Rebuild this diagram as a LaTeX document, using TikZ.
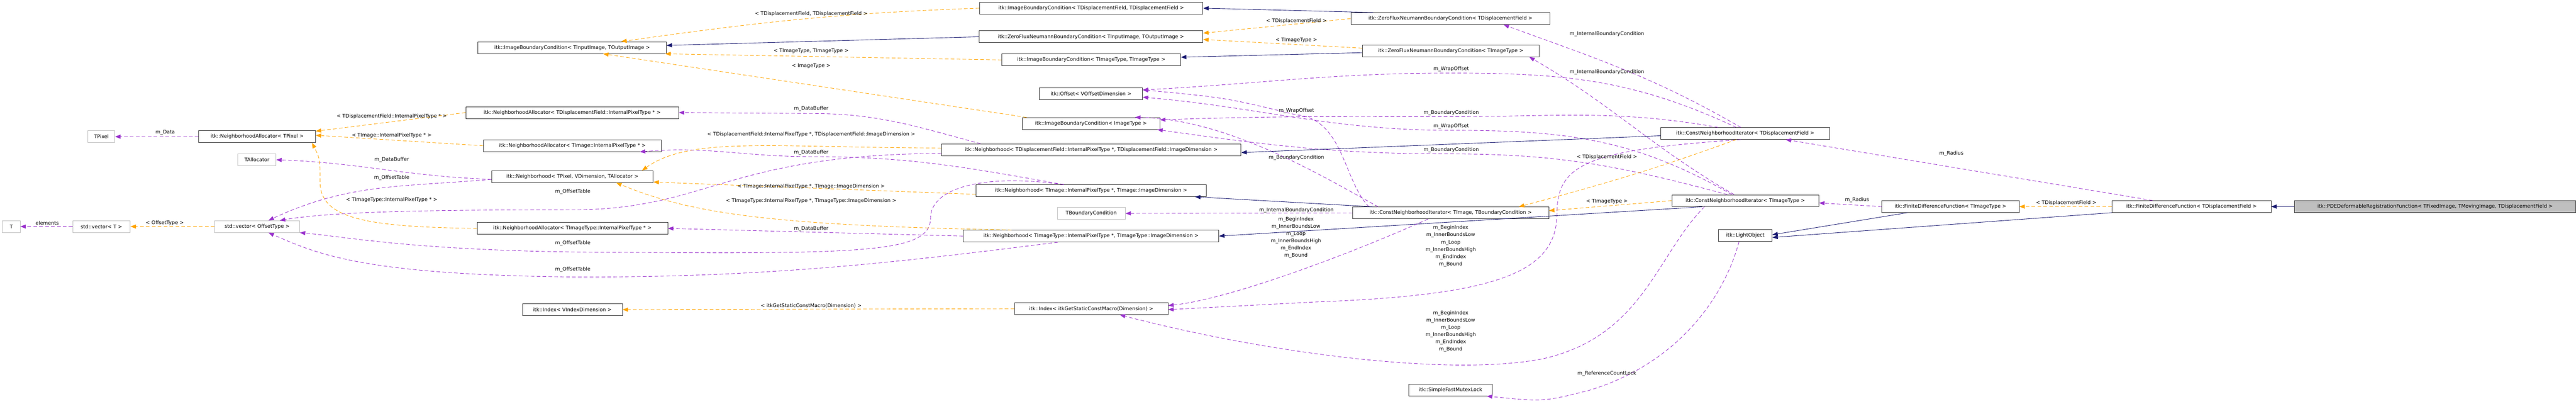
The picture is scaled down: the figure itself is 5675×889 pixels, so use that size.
\documentclass[tikz,border=0pt]{standalone}
\usepackage{fontspec}
\setmainfont{DejaVu Sans}
\usetikzlibrary{arrows.meta}
\begin{document}
\begin{tikzpicture}[x=1pt,y=-1pt,
  every node/.style={font=\fontsize{11}{16}\selectfont},
  box/.style={draw=black!80,line width=1pt,fill=white,minimum height=26pt,inner sep=0pt},
  gbox/.style={box,draw=black!25},
  cur/.style={box,fill=black!25},
  lab/.style={inner sep=1pt,align=center},
  inh/.style={draw={rgb,255:red,25;green,25;blue,112},line width=1pt,-{Triangle[length=12pt,width=9pt]}},
  use/.style={draw={rgb,255:red,154;green,50;blue,205},line width=1pt,dash pattern=on 8pt off 5pt,-{Triangle[length=12pt,width=9pt]}},
  tpl/.style={draw={rgb,255:red,255;green,165;blue,0},line width=1pt,dash pattern=on 8pt off 5pt,-{Triangle[length=12pt,width=9pt]}}]
\useasboundingbox (0,0) rectangle (5675,889);
\newcommand\bx[6]{\node[#1,minimum width={#4-#3}] (#2) at ({(#3+#4)/2},#5) {#6};}
\bx{gbox}{T}{5.5}{44.5}{499}{T}
\bx{gbox}{vecT}{160}{287}{499}{std::vector< T >}
\bx{gbox}{vecO}{473}{660}{499}{std::vector< OffsetType >}
\bx{gbox}{TPixel}{194}{253}{301}{TPixel}
\bx{box}{NAP}{438}{695}{301}{itk::NeighborhoodAllocator< TPixel >}
\bx{gbox}{TAlloc}{524}{608}{352}{TAllocator}
\bx{box}{IBCio}{1053}{1468}{105}{itk::ImageBoundaryCondition< TInputImage, TOutputImage >}
\bx{box}{NAD}{1026}{1495}{248}{itk::NeighborhoodAllocator< TDisplacementField::InternalPixelType * >}
\bx{box}{NAI}{1065}{1457}{321}{itk::NeighborhoodAllocator< TImage::InternalPixelType * >}
\bx{box}{NP}{1083}{1439}{389}{itk::Neighborhood< TPixel, VDimension, TAllocator >}
\bx{box}{NAT}{1051}{1471}{503}{itk::NeighborhoodAllocator< TImageType::InternalPixelType * >}
\bx{box}{IdxV}{1151}{1371}{682}{itk::Index< VIndexDimension >}
\bx{box}{IBCdd}{2158}{2650}{18}{itk::ImageBoundaryCondition< TDisplacementField, TDisplacementField >}
\bx{box}{ZFio}{2157}{2650}{81}{itk::ZeroFluxNeumannBoundaryCondition< TInputImage, TOutputImage >}
\bx{box}{IBCtt}{2207}{2601}{132}{itk::ImageBoundaryCondition< TImageType, TImageType >}
\bx{box}{Off}{2290}{2517}{207}{itk::Offset< VOffsetDimension >}
\bx{box}{IBCi}{2252}{2555}{272}{itk::ImageBoundaryCondition< ImageType >}
\bx{box}{ND}{2074}{2734}{330}{itk::Neighborhood< TDisplacementField::InternalPixelType *, TDisplacementField::ImageDimension >}
\bx{box}{NI}{2150}{2657}{420}{itk::Neighborhood< TImage::InternalPixelType *, TImage::ImageDimension >}
\bx{gbox}{TBC}{2329}{2479}{470}{TBoundaryCondition}
\bx{box}{NT}{2122}{2685}{520}{itk::Neighborhood< TImageType::InternalPixelType *, TImageType::ImageDimension >}
\bx{box}{IdxM}{2235}{2573}{680}{itk::Index< itkGetStaticConstMacro(Dimension) >}
\bx{box}{ZFd}{2976}{3415}{41}{itk::ZeroFluxNeumannBoundaryCondition< TDisplacementField >}
\bx{box}{ZFt}{3001}{3391}{112}{itk::ZeroFluxNeumannBoundaryCondition< TImageType >}
\bx{box}{CNIb}{2980}{3412}{469}{itk::ConstNeighborhoodIterator< TImage, TBoundaryCondition >}
\bx{box}{Mutex}{3104}{3287}{859}{itk::SimpleFastMutexLock}
\bx{box}{CNId}{3659}{4031}{294}{itk::ConstNeighborhoodIterator< TDisplacementField >}
\bx{box}{CNIt}{3683}{4007}{442}{itk::ConstNeighborhoodIterator< TImageType >}
\bx{box}{LO}{3786}{3904}{519}{itk::LightObject}
\bx{box}{FDt}{4146}{4448}{455}{itk::FiniteDifferenceFunction< TImageType >}
\bx{box}{FDd}{4653}{5003}{455}{itk::FiniteDifferenceFunction< TDisplacementField >}
\bx{cur}{PDE}{5055}{5674}{455}{itk::PDEDeformableRegistrationFunction< TFixedImage, TMovingImage, TDisplacementField >}

% edges
\draw[use] (vecT.west) -- (T.east);
\draw[tpl] (vecO.west) -- (vecT.east);
\draw[use] (NAP.west) -- (TPixel.east);
\draw[use] ([yshift=-6]NP.west) to[out=178,in=-2] (TAlloc.east);
\draw[tpl] (NAD.west) -- ([yshift=12]NAP.east);
\draw[tpl] (NAI.west) -- ([yshift=3]NAP.east);
\draw[tpl] (NAT.west) .. controls (800,500) and (705,480) .. (705,400) .. controls (705,350) .. ([xshift=-8]NAP.south east);
\draw[use] ([yshift=-6]NP.west) to[out=185,in=25] ([xshift=25]vecO.north);
\draw[use] ([yshift=-8]ND.west) .. controls (1600,340) and (1560,462) .. (1262,462) .. controls (900,462) and (720,468) .. ([xshift=50]vecO.north);
\draw[use] ([xshift=-60]NI.north) .. controls (2150,380) and (2050,420) .. (2050,480) .. controls (2050,560) and (1900,560) .. (1262,555) .. controls (900,550) and (750,520) .. (vecO.south east);
\draw[use] ([xshift=-73]NT.south) .. controls (2000,575) and (1700,612) .. (1262,610) .. controls (800,605) and (700,560) .. ([xshift=25]vecO.south);
\draw[tpl] (IBCdd.west) to[out=182,in=8] ([xshift=-100]IBCio.north east);
\draw[inh] (ZFio.west) -- ([yshift=5]IBCio.east);
\draw[tpl] (IBCtt.west) -- ([xshift=-3]IBCio.south east);
\draw[tpl] ([xshift=10]IBCi.north west) -- ([xshift=-140]IBCio.south east);
\draw[tpl] (ZFd.west) -- ([yshift=8]ZFio.east);
\draw[tpl] ([yshift=6]ZFt.west) -- ([yshift=-6]ZFio.east);
\draw[inh] ([xshift=-170]ZFd.north) -- (IBCdd.east);
\draw[inh] ([yshift=-4]ZFt.west) -- ([yshift=6]IBCtt.east);
% Offset / ImageBoundaryCondition<ImageType>
\draw[use] ([xshift=-20]CNId.north) to[out=155,in=0] (3197,161) to[out=180,in=3] ([yshift=9]Off.east);
\draw[use] ([xshift=-30]CNIt.north) to[out=150,in=0] (3197,287) to[out=180,in=-5] ([yshift=-7]Off.east);
\draw[use] ([xshift=-180]CNIb.north) .. controls (2960,400) and (2960,262) .. (2856,253) .. controls (2700,215) .. ([yshift=9]Off.east);
\draw[use] ([xshift=-60]CNId.north) to[out=170,in=0] (3197,257) to[out=180,in=2] ([yshift=8]IBCi.east);
\draw[use] ([xshift=-40]CNIt.north) to[out=165,in=0] (3197,339) to[out=180,in=-8] ([xshift=-6]IBCi.south east);
\draw[use] ([xshift=-160]CNIb.north) .. controls (2900,380) and (2700,262) .. ([xshift=-55]IBCi.north east);
% iterators to neighborhoods
\draw[inh] ([yshift=-5]CNId.west) -- ([yshift=-6]ND.east);
\draw[inh] ([xshift=-171]CNIb.north) -- ([xshift=-25]NI.south east);
\draw[use] (CNIb.west) -- (TBC.east);
\draw[inh] ([xshift=-95]CNIt.south) -- (NT.east);
% Index
\draw[use] ([xshift=-50]CNIb.south) .. controls (2950,570) and (2700,660) .. ([yshift=7]IdxM.east);
\draw[use] ([xshift=-10]CNId.south) .. controls (3500,330) and (3430,360) .. (3430,470) .. controls (3430,600) and (3300,650) .. (2900,665) -- ([yshift=-2]IdxM.east);
\draw[use] ([xshift=-90]CNIt.south) .. controls (3650,560) and (3620,740) .. (3400,790) .. controls (3200,830) and (2800,780) .. ([xshift=63]IdxM.south);
\draw[tpl] (IdxM.west) -- (IdxV.east);
% neighborhood templates
\draw[tpl] ([yshift=4]ND.west) .. controls (1700,325) and (1520,300) .. ([xshift=-25]NP.north east);
\draw[tpl] ([yshift=-8]NI.west) -- ([yshift=-12]NP.east);
\draw[tpl] ([xshift=-175]NT.north) .. controls (1700,497) and (1520,470) .. ([xshift=-82]NP.south east);
% m_DataBuffer
\draw[use] ([xshift=-244]ND.north) to[out=165,in=0] (1787,250) -- (NAD.east);
\draw[use] ([xshift=-60]NI.north) to[out=170,in=0] (1787,345) to[out=180,in=5] ([xshift=-48]NAI.south east);
\draw[use] (NT.west) -- (NAT.east);
% iterator templates
\draw[tpl] ([xshift=-20]CNId.south) to[out=200,in=15] ([xshift=150]CNIb.north);
\draw[tpl] (CNIt.west) -- ([yshift=5]CNIb.east);
\draw[use] ([xshift=-10]CNId.north) to[out=150,in=-20] ([xshift=117]ZFd.south);
\draw[use] ([xshift=-25]CNIt.north) to[out=150,in=-30] ([xshift=173]ZFt.south);
% functions
\draw[use] ([xshift=-86]FDd.north) -- ([xshift=89]CNId.south);
\draw[use] (FDt.west) -- ([yshift=-5]CNIt.east);
\draw[tpl] (FDd.west) -- (FDt.east);
\draw[inh] ([xshift=-95]FDt.south) -- ([yshift=2]LO.east);
\draw[inh] (FDd.south west) -- ([yshift=-4]LO.east);
\draw[use] ([xshift=-14]LO.south) .. controls (3800,650) and (3700,800) .. (3500,860) .. controls (3400,885) .. ([xshift=80]Mutex.south);
\draw[inh] (PDE.west) -- (FDd.east);

% labels
\node[lab] (l1) at (104,491) {elements};
\node[lab] (l2) at (363,491) {< OffsetType >};
\node[lab] (l3) at (364,292) {m\_Data};
\node[lab] (l4) at (863,256) {< TDisplacementField::InternalPixelType * >};
\node[lab] (l5) at (863,298) {< TImage::InternalPixelType * >};
\node[lab] (l6) at (863,352) {m\_DataBuffer};
\node[lab] (l7) at (863,391) {m\_OffsetTable};
\node[lab] (l8) at (1262,422) {m\_OffsetTable};
\node[lab] (l9) at (863,440) {< TImageType::InternalPixelType * >};
\node[lab] (l10) at (1262,536) {m\_OffsetTable};
\node[lab] (l11) at (1262,594) {m\_OffsetTable};
\node[lab] (l12) at (1787,30) {< TDisplacementField, TDisplacementField >};
\node[lab] (l13) at (1787,112) {< TImageType, TImageType >};
\node[lab] (l14) at (1787,145) {< ImageType >};
\node[lab] (l15) at (1787,240) {m\_DataBuffer};
\node[lab] (l16) at (1787,296) {< TDisplacementField::InternalPixelType *, TDisplacementField::ImageDimension >};
\node[lab] (l17) at (1787,336) {m\_DataBuffer};
\node[lab] (l18) at (1787,411) {< TImage::InternalPixelType *, TImage::ImageDimension >};
\node[lab] (l19) at (1787,443) {< TImageType::InternalPixelType *, TImageType::ImageDimension >};
\node[lab] (l20) at (1787,504) {m\_DataBuffer};
\node[lab] (l21) at (1787,674) {< itkGetStaticConstMacro(Dimension) >};
\node[lab] (l22) at (2856,46) {< TDisplacementField >};
\node[lab] (l23) at (2856,88) {< TImageType >};
\node[lab] (l24) at (3197,152) {m\_WrapOffset};
\node[lab] (l25) at (2856,244) {m\_WrapOffset};
\node[lab] (l26) at (3197,248) {m\_BoundaryCondition};
\node[lab] (l27) at (3197,278) {m\_WrapOffset};
\node[lab] (l28) at (3197,330) {m\_BoundaryCondition};
\node[lab] (l29) at (2856,347) {m\_BoundaryCondition};
\node[lab] (l30) at (2856,463) {m\_InternalBoundaryCondition};
\node[lab] (l31) at (2855,523) {m\_BeginIndex\\m\_InnerBoundsLow\\m\_Loop\\m\_InnerBoundsHigh\\m\_EndIndex\\m\_Bound};
\node[lab] (l32) at (3196,542) {m\_BeginIndex\\m\_InnerBoundsLow\\m\_Loop\\m\_InnerBoundsHigh\\m\_EndIndex\\m\_Bound};
\node[lab] (l33) at (3196,730) {m\_BeginIndex\\m\_InnerBoundsLow\\m\_Loop\\m\_InnerBoundsHigh\\m\_EndIndex\\m\_Bound};
\node[lab] (l34) at (3540,75) {m\_InternalBoundaryCondition};
\node[lab] (l35) at (3540,159) {m\_InternalBoundaryCondition};
\node[lab] (l36) at (3540,346) {< TDisplacementField >};
\node[lab] (l37) at (3540,444) {< TImageType >};
\node[lab] (l38) at (3540,823) {m\_ReferenceCountLock};
\node[lab] (l39) at (4091,440) {m\_Radius};
\node[lab] (l40) at (4299,338) {m\_Radius};
\node[lab] (l41) at (4552,447) {< TDisplacementField >};
\end{tikzpicture}
\end{document}
